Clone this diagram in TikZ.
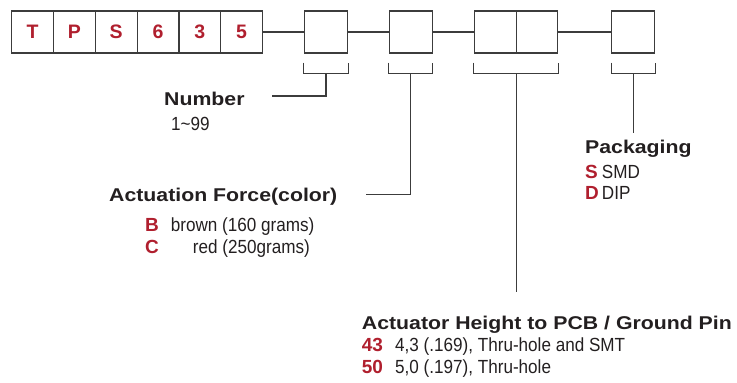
\documentclass[tikz,border=0pt]{standalone}
\usepackage{fontspec}
\setmainfont{Liberation Sans}
\newfontfamily\headfont[FakeStretch=1.15]{Liberation Sans Bold}
\newfontfamily\codefont{Liberation Sans Bold}
\newfontfamily\bodyfont[FakeStretch=0.9]{Liberation Sans}
\usetikzlibrary{calc,positioning}
\definecolor{tpsred}{HTML}{B01F2E}
\definecolor{tpsink}{HTML}{231F20}
\definecolor{tpsgray}{HTML}{3C3C3C}

\begin{document}
\begin{tikzpicture}[x=1pt,y=-1pt,
  cell/.style={draw=tpsgray, line width=1.2pt, minimum width=41.8pt, minimum height=42pt, inner sep=0pt,
    text=tpsred, font=\codefont\fontsize{19.5}{20}\selectfont},
  wire/.style={draw=tpsgray, line width=1.1pt},
  head/.style={anchor=base west, inner sep=0pt, text=tpsink, font=\headfont\fontsize{18.5}{20}\selectfont},
  code/.style={anchor=base west, inner sep=0pt, text=tpsred, font=\codefont\fontsize{19}{20}\selectfont},
  body/.style={anchor=base west, inner sep=0pt, text=tpsink, font=\bodyfont\fontsize{19}{20}\selectfont}]
\useasboundingbox (0,0) rectangle (737,383);
% fixed part of the code
\node[cell] (t1) at (32.6,32) {T};
\node[cell] (t2) at (74.4,32) {P};
\node[cell] (t3) at (116.2,32) {S};
\node[cell] (t4) at (158,32) {6};
\node[cell] (t5) at (199.8,32) {3};
\node[cell] (t6) at (241.6,32) {5};
% open positions
\node[cell, minimum width=43pt] (num) at (326,32) {};
\node[cell, minimum width=43pt] (force) at (410.8,32) {};
\node[cell, minimum width=42pt] (ht1) at (495.3,32) {};
\node[cell, minimum width=41pt] (ht2) at (537,32) {};
\node[cell, minimum width=43pt] (pack) at (633.2,32) {};
\draw[wire] (t6) -- (num) (num) -- (force) (force) -- (ht1) (ht2) -- (pack);
% brackets
\draw[wire] ([yshift=-9pt]num.south west) -- ++(0,11) -| ([yshift=-9pt]num.south east);
\draw[wire] ([yshift=-9pt]force.south west) -- ++(0,11) -| ([yshift=-9pt]force.south east);
\draw[wire] ([yshift=-9pt]ht1.south west) -- ++(0,11) -| ([yshift=-9pt]ht2.south east);
\draw[wire] ([yshift=-9pt]pack.south west) -- ++(0,11) -| ([yshift=-9pt]pack.south east);
% labels
\node[head] (lnum) at (164,105) {Number};
\node[body] (lnumv) at (171,130) {1\char"007E 99};
\node[head] (lforce) at (109,201.7) {Actuation Force(color)};
\node[code] (lforceb) at (145,231.7) {B};
\node[body] (lforcebt) at (170.7,231.7) {brown (160 grams)};
\node[code] (lforcec) at (145,253.3) {C};
\node[body] (lforcect) at (192.7,253.3) {red (250grams)};
\node[head] (lpack) at (585,153.3) {Packaging};
\node[code] (lpacks) at (585,178.3) {S};
\node[body] (lpackst) at (601.7,178.3) {SMD};
\node[code] (lpackd) at (585,199.3) {D};
\node[body] (lpackdt) at (601.7,199.3) {DIP};
\node[head] (lht) at (361.7,329.3) {Actuator Height to PCB / Ground Pin};
\node[code] (lht43) at (361.7,351.7) {43};
\node[body] (lht43t) at (395,351.7) {4,3 (.169), Thru-hole and SMT};
\node[code] (lht50) at (361.7,373.3) {50};
\node[body] (lht50t) at (395,373.3) {5,0 (.197), Thru-hole};
% leader lines
\coordinate (numend) at (272,96);
\coordinate (forceend) at (365.7,194.3);
\coordinate (htend) at (515.7,291.7);
\coordinate (packend) at (632,133.3);
\draw[wire] ([yshift=-20pt]num.south) |- (numend);
\draw[wire] ([yshift=-20pt]force.south) |- (forceend);
\draw[wire] ([yshift=-20pt]ht1.south east) -- (ht1.south east |- htend);
\draw[wire] ([yshift=-20pt]pack.south) -- (pack.south |- packend);
\end{tikzpicture}
\end{document}
